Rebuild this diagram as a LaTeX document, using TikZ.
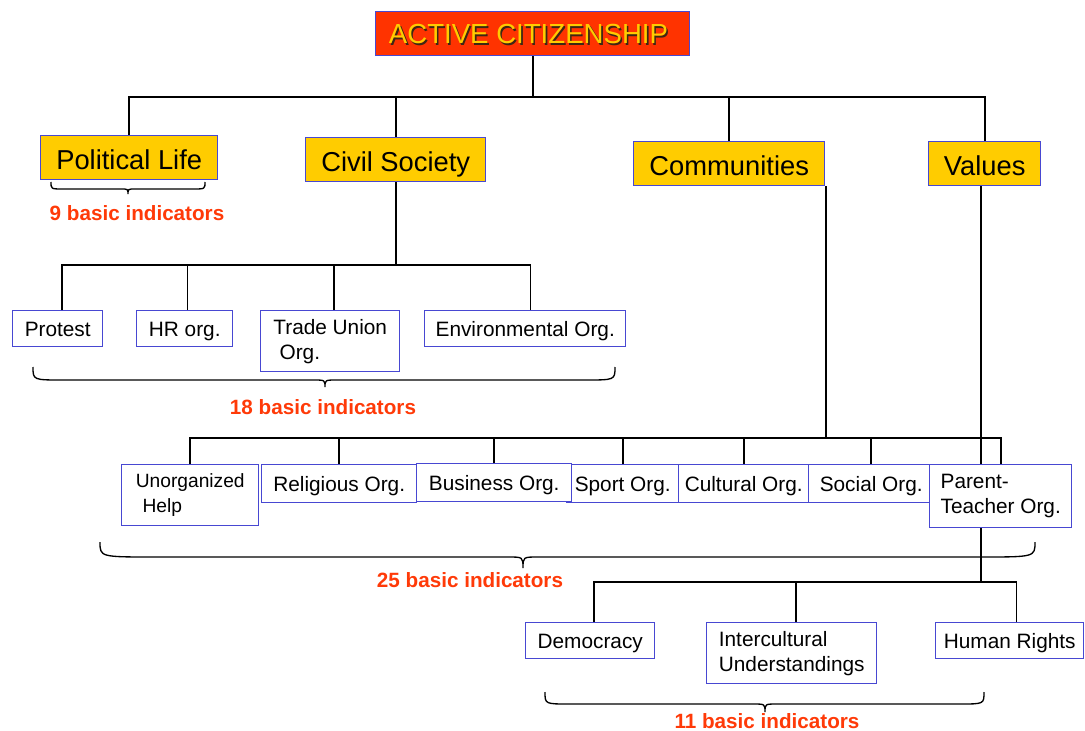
\documentclass[tikz,border=0pt]{standalone}
\usepackage{fontspec}
\setmainfont{Liberation Sans}
\usetikzlibrary{backgrounds}
\definecolor{boxblue}{RGB}{72,72,210}
\definecolor{gold}{RGB}{255,204,0}
\definecolor{titlered}{RGB}{255,51,0}
\definecolor{lblred}{RGB}{255,58,8}
\definecolor{shadowcol}{RGB}{60,40,20}
\newcommand{\mybrace}[8]{%
  \draw[bracestyle] (#1,#4) .. controls (#1,#5) .. (#1+#7,#5) -- (#3-#8,#5)
    .. controls (#3,#5) .. (#3,#6) .. controls (#3,#5) .. (#3+#8,#5)
    -- (#2-#7,#5) .. controls (#2,#5) .. (#2,#4);}
\tikzset{
  bx/.style 2 args={minimum width={#1*0.75pt}, minimum height={#2*0.75pt}, anchor=north west},
  topbox/.style={draw=boxblue, line width=1.1pt, fill=gold, inner sep=0pt,
    font=\fontsize{20.5}{24}\selectfont, text height=17pt, text depth=0pt},
  subbox/.style={draw=boxblue, line width=1.1pt, fill=white, inner sep=0pt,
    font=\fontsize{15.6}{18.75}\selectfont, align=left},
  oneline/.style={text height=11.6pt, text depth=0pt},
  titletext/.style={inner sep=0pt, font=\fontsize{20.7}{24}\selectfont},
  lbl/.style={text=lblred, inner sep=0pt, font=\fontsize{15.5}{18}\selectfont\bfseries},
  conn/.style={line width=1.3pt, black},
  thickconn/.style={line width=2pt, black},
  bracestyle/.style={line width=1pt, black},
}
\begin{document}
\begin{tikzpicture}[x=0.75pt, y=-0.75pt]
\useasboundingbox (0,0) rectangle (1085,731);

% title
\node[bx={314}{44}, draw=boxblue, line width=1.1pt, fill=titlered] (title) at (375,11) {};
\node[titletext, text=shadowcol] (titleshadow) at ([xshift=-2.0pt,yshift=-1.6pt]title.center) {ACTIVE CITIZENSHIP};
\node[titletext, text=gold] (titletxt) at ([xshift=-3.2pt,yshift=-0.4pt]title.center) {ACTIVE CITIZENSHIP};

% main categories
\node[topbox, bx={177}{44}] (political) at (40,135) {Political Life};
\node[topbox, bx={180}{44}] (civil) at (305,137) {Civil Society};
\node[topbox, bx={191}{44}] (communities) at (633,141) {Communities};
\node[topbox, bx={112}{44}] (values) at (928,141) {Values};

% civil society
\node[subbox, oneline, bx={90}{36}] (protest) at (12,310) {Protest};
\node[subbox, oneline, bx={96}{36}] (hr) at (136,310) {HR org.};
\node[subbox, bx={139}{61}] (tu) at (260,310) {Trade Union\\\hspace{0.3em}Org.};
\node[subbox, oneline, bx={201}{36}] (env) at (424,310) {Environmental Org.};

% communities
\node[subbox, bx={137}{61}, font=\fontsize{14.4}{18.75}\selectfont] (unorg) at (121,464) {Unorganized\\\hspace{0.35em}Help};
\node[subbox, oneline, bx={155}{38}] (relig) at (261,464) {Religious Org.};
\node[subbox, oneline, bx={112}{38}] (sport) at (566,464) {Sport Org.};
\node[subbox, oneline, bx={155}{38}] (business) at (416,463) {Business Org.};
\node[subbox, oneline, bx={130}{38}] (cultural) at (678,464) {Cultural Org.};
\node[subbox, oneline, bx={125}{38}] (social) at (808,464) {Social Org.};
\node[subbox, bx={142}{63}] (pt) at (929,464) {Parent-\\Teacher Org.};

% values
\node[subbox, oneline, bx={129}{36}] (democracy) at (525,622) {Democracy};
\node[subbox, bx={170}{61}] (intercult) at (706,622) {Intercultural\\Understandings};
\node[subbox, oneline, bx={148}{36}] (hrights) at (935,622) {Human Rights};

% labels
\node[lbl] (l9) at (137,213) {9 basic indicators};
\node[lbl] (l18) at (323,407) {18 basic indicators};
\node[lbl] (l25) at (470,580) {25 basic indicators};
\node[lbl] (l11) at (767,721) {11 basic indicators};

% braces
\mybrace{51}{205}{128}{182}{189}{194}{12}{7}
\mybrace{33}{615}{325}{367}{380}{387}{30}{12}
\mybrace{100}{1035}{523}{542}{557}{568}{55}{15}
\mybrace{545}{984}{765}{692}{704}{712}{24}{12}

% connectors
\coordinate (busA) at (533,97);
\coordinate (busB) at (395,265);
\coordinate (busC) at (826,438);
\coordinate (busD) at (981,582);
\begin{scope}[on background layer]
  \fill[white] (0,0) rectangle (1085,731);
  \draw[conn] (title.south -| busA) -- (busA);
  \draw[conn] (political.north) |- (busA) -| (values.north);
  \draw[conn] (civil.north) -- (civil.north |- busA);
  \draw[conn] (communities.north) -- (communities.north |- busA);

  \draw[conn] (civil.south) -- (civil.south |- busB);
  \draw[conn] ([xshift=3pt]protest.north) |- (busB) -| ([xshift=4pt]env.north);
  \draw[conn] ([xshift=2pt]hr.north) -- ([xshift=2pt]hr.north |- busB);
  \draw[conn] ([xshift=3pt]tu.north) -- ([xshift=3pt]tu.north |- busB);

  \draw[thickconn] (communities.south east -| busC) -- (busC);
  \draw[conn] (unorg.north) |- (busC) -| (pt.north);
  \draw[conn] (relig.north) -- (relig.north |- busC);
  \draw[conn] (business.north) -- (business.north |- busC);
  \draw[conn] (sport.north) -- (sport.north |- busC);
  \draw[conn] (cultural.north) -- (cultural.north |- busC);
  \draw[conn] (social.north) -- (social.north |- busC);

  \draw[conn] (values.south -| busD) -- (busD);
  \draw[conn] ([xshift=3pt]democracy.north) |- (busD) -| ([xshift=5pt]hrights.north);
  \draw[conn] ([xshift=3pt]intercult.north) -- ([xshift=3pt]intercult.north |- busD);
\end{scope}
\end{tikzpicture}
\end{document}
